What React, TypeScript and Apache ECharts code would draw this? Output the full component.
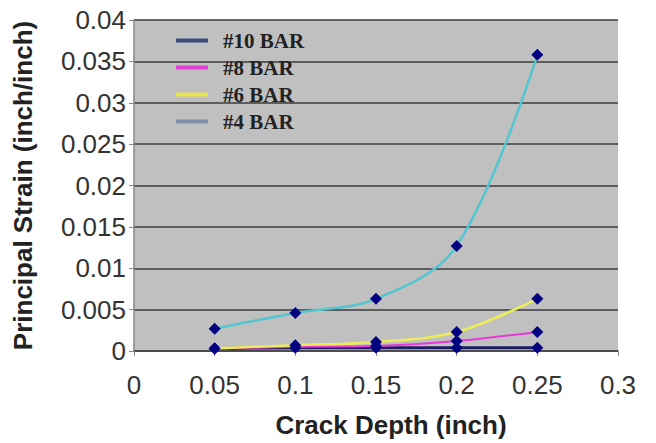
import React, { useEffect, useRef } from "react";
import * as echarts from "echarts";

const crackDepth = [0.05, 0.1, 0.15, 0.2, 0.25];
const bar10 = [0.0003, 0.0004, 0.0004, 0.0004, 0.0004];
const bar8 = [0.0003, 0.0005, 0.0006, 0.0012, 0.0023];
const bar6 = [0.0003, 0.0007, 0.0011, 0.0023, 0.0063];
const bar4 = [0.0027, 0.0046, 0.0063, 0.0127, 0.0358];
const seriesNames = ["#10 BAR", "#8 BAR", "#6 BAR", "#4 BAR"];
const lineColors = ["#1c1c66", "#e838d8", "#ecec5a", "#52c6d0"];
const legendColors = ["#3c4a7c", "#e040d8", "#e6e650", "#8090a8"];
const lineWidths = [3, 2, 2.5, 2.5];

export default function App() {
  const ref = useRef<HTMLDivElement>(null);
  useEffect(() => {
    if (!ref.current) return;
    const chart = echarts.init(ref.current, null, { renderer: "svg" });
    const allData = [bar10, bar8, bar6, bar4];
    chart.setOption({
      animation: false,
      backgroundColor: "#ffffff",
      grid: {
        left: 134,
        right: 38,
        top: 20,
        bottom: 91.5,
        show: true,
        backgroundColor: "#c0c0c0",
        borderWidth: 0,
      },
      legend: {
        left: 176,
        top: 30,
        padding: 0,
        orient: "vertical",
        icon: "rect",
        itemWidth: 32,
        itemHeight: 4,
        itemGap: 6,
        data: seriesNames.map((n, i) => ({
          name: n,
          itemStyle: { color: legendColors[i] },
        })),
        textStyle: {
          fontFamily: "Liberation Serif",
          fontWeight: "bold",
          fontSize: 21,
          color: "#222",
          padding: [0, 0, 0, 10],
        },
      },
      xAxis: {
        type: "value",
        min: 0,
        max: 0.3,
        interval: 0.05,
        name: "Crack Depth (inch)",
        nameLocation: "middle",
        nameGap: 61,
        nameTextStyle: {
          fontFamily: "Liberation Sans",
          fontWeight: "bold",
          fontSize: 26,
          color: "#222",
          padding: [0, 0, 0, 30],
        },
        axisLine: { show: true, lineStyle: { color: "#444", width: 1.5 } },
        axisTick: { show: true, length: 5, lineStyle: { color: "#888" } },
        splitLine: { show: false },
        axisLabel: {
          fontFamily: "Liberation Sans",
          fontSize: 26,
          color: "#333",
          margin: 21,
          formatter: (v: number) => String(parseFloat(v.toFixed(4))),
        },
      },
      yAxis: {
        type: "value",
        min: 0,
        max: 0.04,
        interval: 0.005,
        name: "Principal Strain (inch/inch)",
        nameLocation: "middle",
        nameGap: 98,
        nameTextStyle: {
          fontFamily: "Liberation Sans",
          fontWeight: "bold",
          fontSize: 26,
          color: "#222",
        },
        axisLine: { show: true, lineStyle: { color: "#888", width: 1.5 } },
        axisTick: { show: true, length: 5, lineStyle: { color: "#888" } },
        splitLine: { show: true, lineStyle: { color: "#3c3c3c", width: 1.5 } },
        axisLabel: {
          fontFamily: "Liberation Sans",
          fontSize: 26,
          color: "#333",
          margin: 8,
          formatter: (v: number) => String(parseFloat(v.toFixed(4))),
        },
      },
      series: seriesNames.map((n, i) => ({
        name: n,
        type: "line",
        smooth: 0.35,
        data: crackDepth.map((x, j) => [x, allData[i][j]]),
        symbol: "diamond",
        symbolSize: 12,
        itemStyle: { color: "#000080" },
        lineStyle: { color: lineColors[i], width: lineWidths[i] },
        z: 2 + i,
      })),
    });
    return () => chart.dispose();
  }, []);
  return (
    <div
      ref={ref}
      style={{ position: "fixed", left: 0, top: 0, width: 656, height: 443 }}
    />
  );
}
